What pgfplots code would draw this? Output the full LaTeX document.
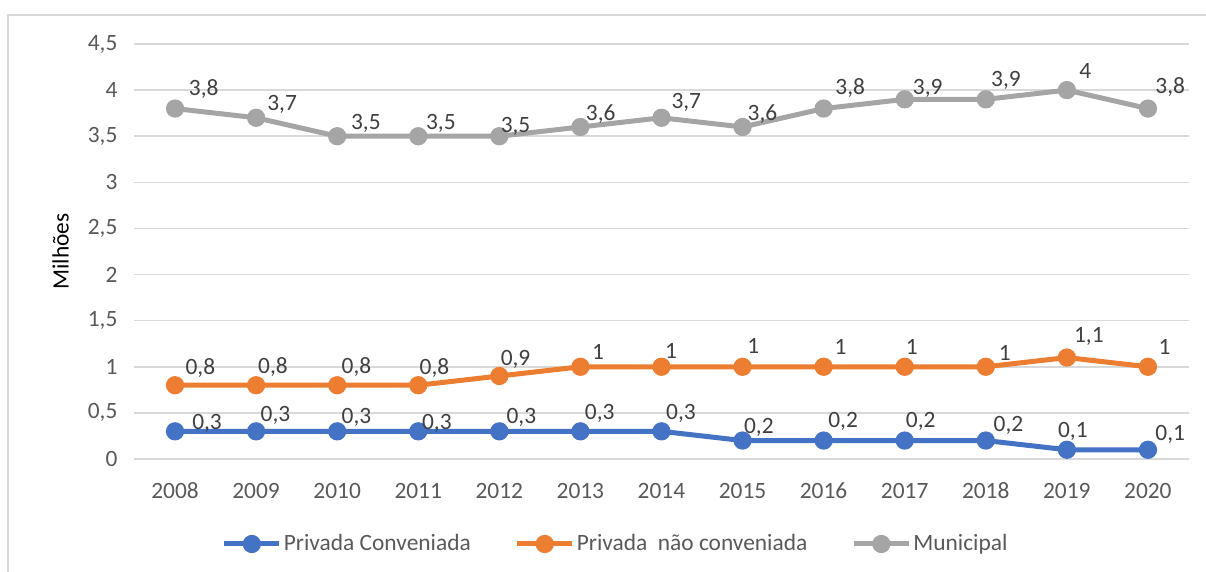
\documentclass[border=0pt]{standalone}
\usepackage{pgfplots}
\usepackage{pgfplotstable}
\usepackage{fontspec}
\setmainfont{Carlito}
\pgfplotsset{compat=1.18}

\definecolor{serBlue}{HTML}{4472C4}
\definecolor{serOrange}{HTML}{ED7D31}
\definecolor{serGray}{HTML}{A5A5A5}
\definecolor{gridGray}{HTML}{D9D9D9}
\definecolor{tickText}{HTML}{595959}
\definecolor{labelText}{HTML}{404040}

% year, value (millions), label offset dx/dy in px (dy downward)
\pgfplotstableread{
year val dx dy
2008 0.3 32.0 -8.1
2009 0.3 19.3 -15.9
2010 0.3 19.3 -14.2
2011 0.3 18.6 -8.1
2012 0.3 22.0 -14.2
2013 0.3 19.3 -18.2
2014 0.3 19.5 -18.4
2015 0.2 16.3 -12.8
2016 0.2 19.5 -18.8
2017 0.2 16.0 -18.8
2018 0.2 22.7 -15.2
2019 0.1 6.0 -18.8
2020 0.1 22.3 -15.2
}\conveniada

\pgfplotstableread{
year val dx dy
2008 0.8 25.3 -16.9
2009 0.8 16.9 -18.6
2010 0.8 19.3 -18.6
2011 0.8 16.2 -16.9
2012 0.9 16.2 -16.9
2013 1.0 17.6 -14.5
2014 1.0 9.6 -16.3
2015 1.0 10.6 -21.3
2016 1.0 17.0 -19.9
2017 1.0 7.1 -19.9
2018 1.0 19.1 -13.5
2019 1.1 22.0 -20.6
2020 1.0 16.7 -19.9
}\naoconveniada

\pgfplotstableread{
year val dx dy
2008 3.8 28.7 -19.3
2009 3.7 26.0 -13.2
2010 3.5 28.7 -12.8
2011 3.5 22.6 -12.8
2012 3.5 16.2 -10.1
2013 3.6 20.3 -12.8
2014 3.7 24.8 -15.6
2015 3.6 19.9 -12.8
2016 3.8 26.6 -20.2
2017 3.9 23.0 -10.6
2018 3.9 20.2 -18.8
2019 4.0 18.4 -18.8
2020 3.8 22.3 -21.3
}\municipal

\begin{document}
\begin{tikzpicture}[font=\fontsize{11.7}{14}\selectfont]
\path[use as bounding box] (0pt,0pt) rectangle (603pt,-286pt);
% chart area frame
\draw[gridGray, line width=0.8pt] (4pt,-620pt) -- (4pt,-7.5pt) -- (700pt,-7.5pt);
\begin{axis}[
  at={(67.25pt,-229.5pt)}, anchor=south west,
  scale only axis,
  width=527pt, height=207.5pt,
  xmin=2007.5, xmax=2020.5,
  ymin=0, ymax=4.5,
  xtick={2008,...,2020},
  ytick={0,0.5,...,4.5},
  axis line style={draw=none},
  major tick length=0pt,
  ymajorgrids,
  grid style={gridGray, line width=0.75pt},
  /pgf/number format/assume math mode=true,
  /pgf/number format/use comma,
  x tick label style={/pgf/number format/1000 sep={}, text=tickText, anchor=center,
     text height=8pt, text depth=0pt, yshift=-15.5pt},
  y tick label style={text=tickText, xshift=-5pt},
  ylabel={Milhões},
  every axis y label/.style={at={(axis description cs:-0.0702,0.5)}, rotate=90, anchor=center, text=black},
  clip=false,
  every axis plot/.append style={line width=2.5pt, mark=*, mark size=3.3pt, mark options={solid}},
  nodes near coords,
  visualization depends on={\thisrow{dx} \as \dx},
  visualization depends on={\thisrow{dy} \as \dy},
  every node near coord/.append style={anchor=center, text=labelText, inner sep=0pt,
     xshift={\dx*0.5pt}, yshift={-\dy*0.5pt}, font=\fontsize{11.7}{14}\selectfont},
  legend columns=3,
  legend image code/.code={\draw[mark repeat=2, mark phase=2, #1] plot coordinates {(0pt,0pt) (13.75pt,0pt) (27.5pt,0pt)};},
  legend style={draw=none, fill=none, at={(axis description cs:0.4565,-0.2048)}, anchor=center,
     text=tickText, nodes={inner sep=1pt},
     /tikz/every even column/.append style={column sep=21pt}},
]
\addplot[serBlue] table[x=year, y=val] {\conveniada};
\addlegendentry{Privada Conveniada}
\addplot[serOrange] table[x=year, y=val] {\naoconveniada};
\addlegendentry{Privada\ \ não conveniada}
\addplot[serGray] table[x=year, y=val] {\municipal};
\addlegendentry{Municipal}
\end{axis}
\end{tikzpicture}
\end{document}
